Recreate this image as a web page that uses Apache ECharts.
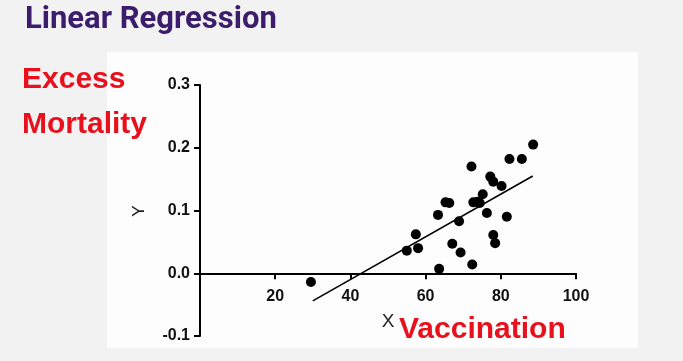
<!DOCTYPE html>
<html>
<head>
<meta charset="utf-8">
<script src="https://cdn.jsdelivr.net/npm/echarts@6/dist/echarts.min.js"></script>
<style>
html,body{margin:0;padding:0;background:#f2f2f2;}
#c{width:683px;height:361px;}
</style>
</head>
<body>
<div id="c"></div>
<script>
// Data
const vaccination = [29.5, 55.0, 57.4, 58.0, 63.3, 63.6, 65.3, 66.3, 67.1, 68.9, 69.3, 72.2, 72.4, 72.7, 73.8, 74.4, 75.2, 76.3, 77.2, 78.0, 78.0, 78.5, 80.2, 81.6, 82.3, 85.6, 88.6];
const mortality   = [-0.014, 0.036, 0.062, 0.040, 0.093, 0.007, 0.113, 0.112, 0.047, 0.083, 0.033, 0.170, 0.014, 0.113, 0.114, 0.112, 0.126, 0.096, 0.154, 0.146, 0.061, 0.048, 0.139, 0.090, 0.182, 0.182, 0.205];
const fitX = [30, 88.5];
const fitY = [-0.044, 0.155];
const xTicks = [0, 20, 40, 60, 80, 100];
const yTicks = [-0.1, 0.0, 0.1, 0.2, 0.3];

const chart = echarts.init(document.getElementById('c'));
const points = vaccination.map((v, i) => [v, mortality[i]]);
const fit = fitX.map((v, i) => [v, fitY[i]]);

const gridTop = 85, gridBottom = 25, H = 361;
const yMin = yTicks[0], yMax = yTicks[yTicks.length - 1];
const plotH = H - gridTop - gridBottom;
// move the x axis (line, ticks, labels) up to y = 0
const zeroOffset = -plotH * (0 - yMin) / (yMax - yMin);

chart.setOption({
  backgroundColor: '#f2f2f2',
  animation: false,
  graphic: [
    {type: 'rect', z: -10, shape: {x: 107, y: 52, width: 531, height: 296}, style: {fill: '#fdfdfd'}},
    {type: 'text', left: 25, top: 5, style: {text: 'Linear Regression', fill: '#3c1d6b', font: 'bold 31px "Roboto", "Liberation Sans", sans-serif'}},
    {type: 'text', left: 22, top: 57, style: {text: 'Excess\nMortality', fill: '#e8101c', font: 'bold 30px "Liberation Sans", Arial, sans-serif', lineHeight: 45}},
    {type: 'text', left: 399, top: 315, style: {text: 'Vaccination', fill: '#e8101c', font: 'bold 30px "Liberation Sans", Arial, sans-serif'}},
    {type: 'text', x: 388, y: 322, style: {text: 'X', fill: '#222', font: '19px "Liberation Sans", Arial, sans-serif', align: 'center', verticalAlign: 'middle'}},
    {type: 'text', x: 139, y: 211, rotation: Math.PI / 2, style: {text: 'Y', fill: '#222', font: '17px "Liberation Sans", Arial, sans-serif', align: 'center', verticalAlign: 'middle'}}
  ],
  grid: {left: 200, right: 107, top: gridTop, bottom: gridBottom, containLabel: false, outerBoundsMode: 'none'},
  xAxis: {
    type: 'value', min: xTicks[0], max: xTicks[xTicks.length - 1], interval: 20,
    position: 'bottom', offset: zeroOffset,
    axisLine: {onZero: false, lineStyle: {color: '#000', width: 2}},
    axisTick: {show: true, length: 6, lineStyle: {color: '#000', width: 2}},
    axisLabel: {margin: 15, color: '#111', fontSize: 16, fontWeight: 'bold', fontFamily: 'Liberation Sans',
      formatter: v => (v === 0 ? '' : String(v))},
    splitLine: {show: false}
  },
  yAxis: {
    type: 'value', min: yMin, max: yMax, interval: 0.1,
    axisLine: {show: true, onZero: false, lineStyle: {color: '#000', width: 2}},
    axisTick: {show: true, length: 6, lineStyle: {color: '#000', width: 2}},
    axisLabel: {margin: 10, color: '#111', fontSize: 16, fontWeight: 'bold', fontFamily: 'Liberation Sans',
      formatter: v => v.toFixed(1)},
    splitLine: {show: false}
  },
  series: [
    {type: 'line', data: fit, showSymbol: false, symbol: 'none', lineStyle: {color: '#000', width: 1.6}, z: 2},
    {type: 'scatter', data: points, symbolSize: 10, itemStyle: {color: '#000', opacity: 1}, z: 3}
  ]
});
</script>
</body>
</html>
